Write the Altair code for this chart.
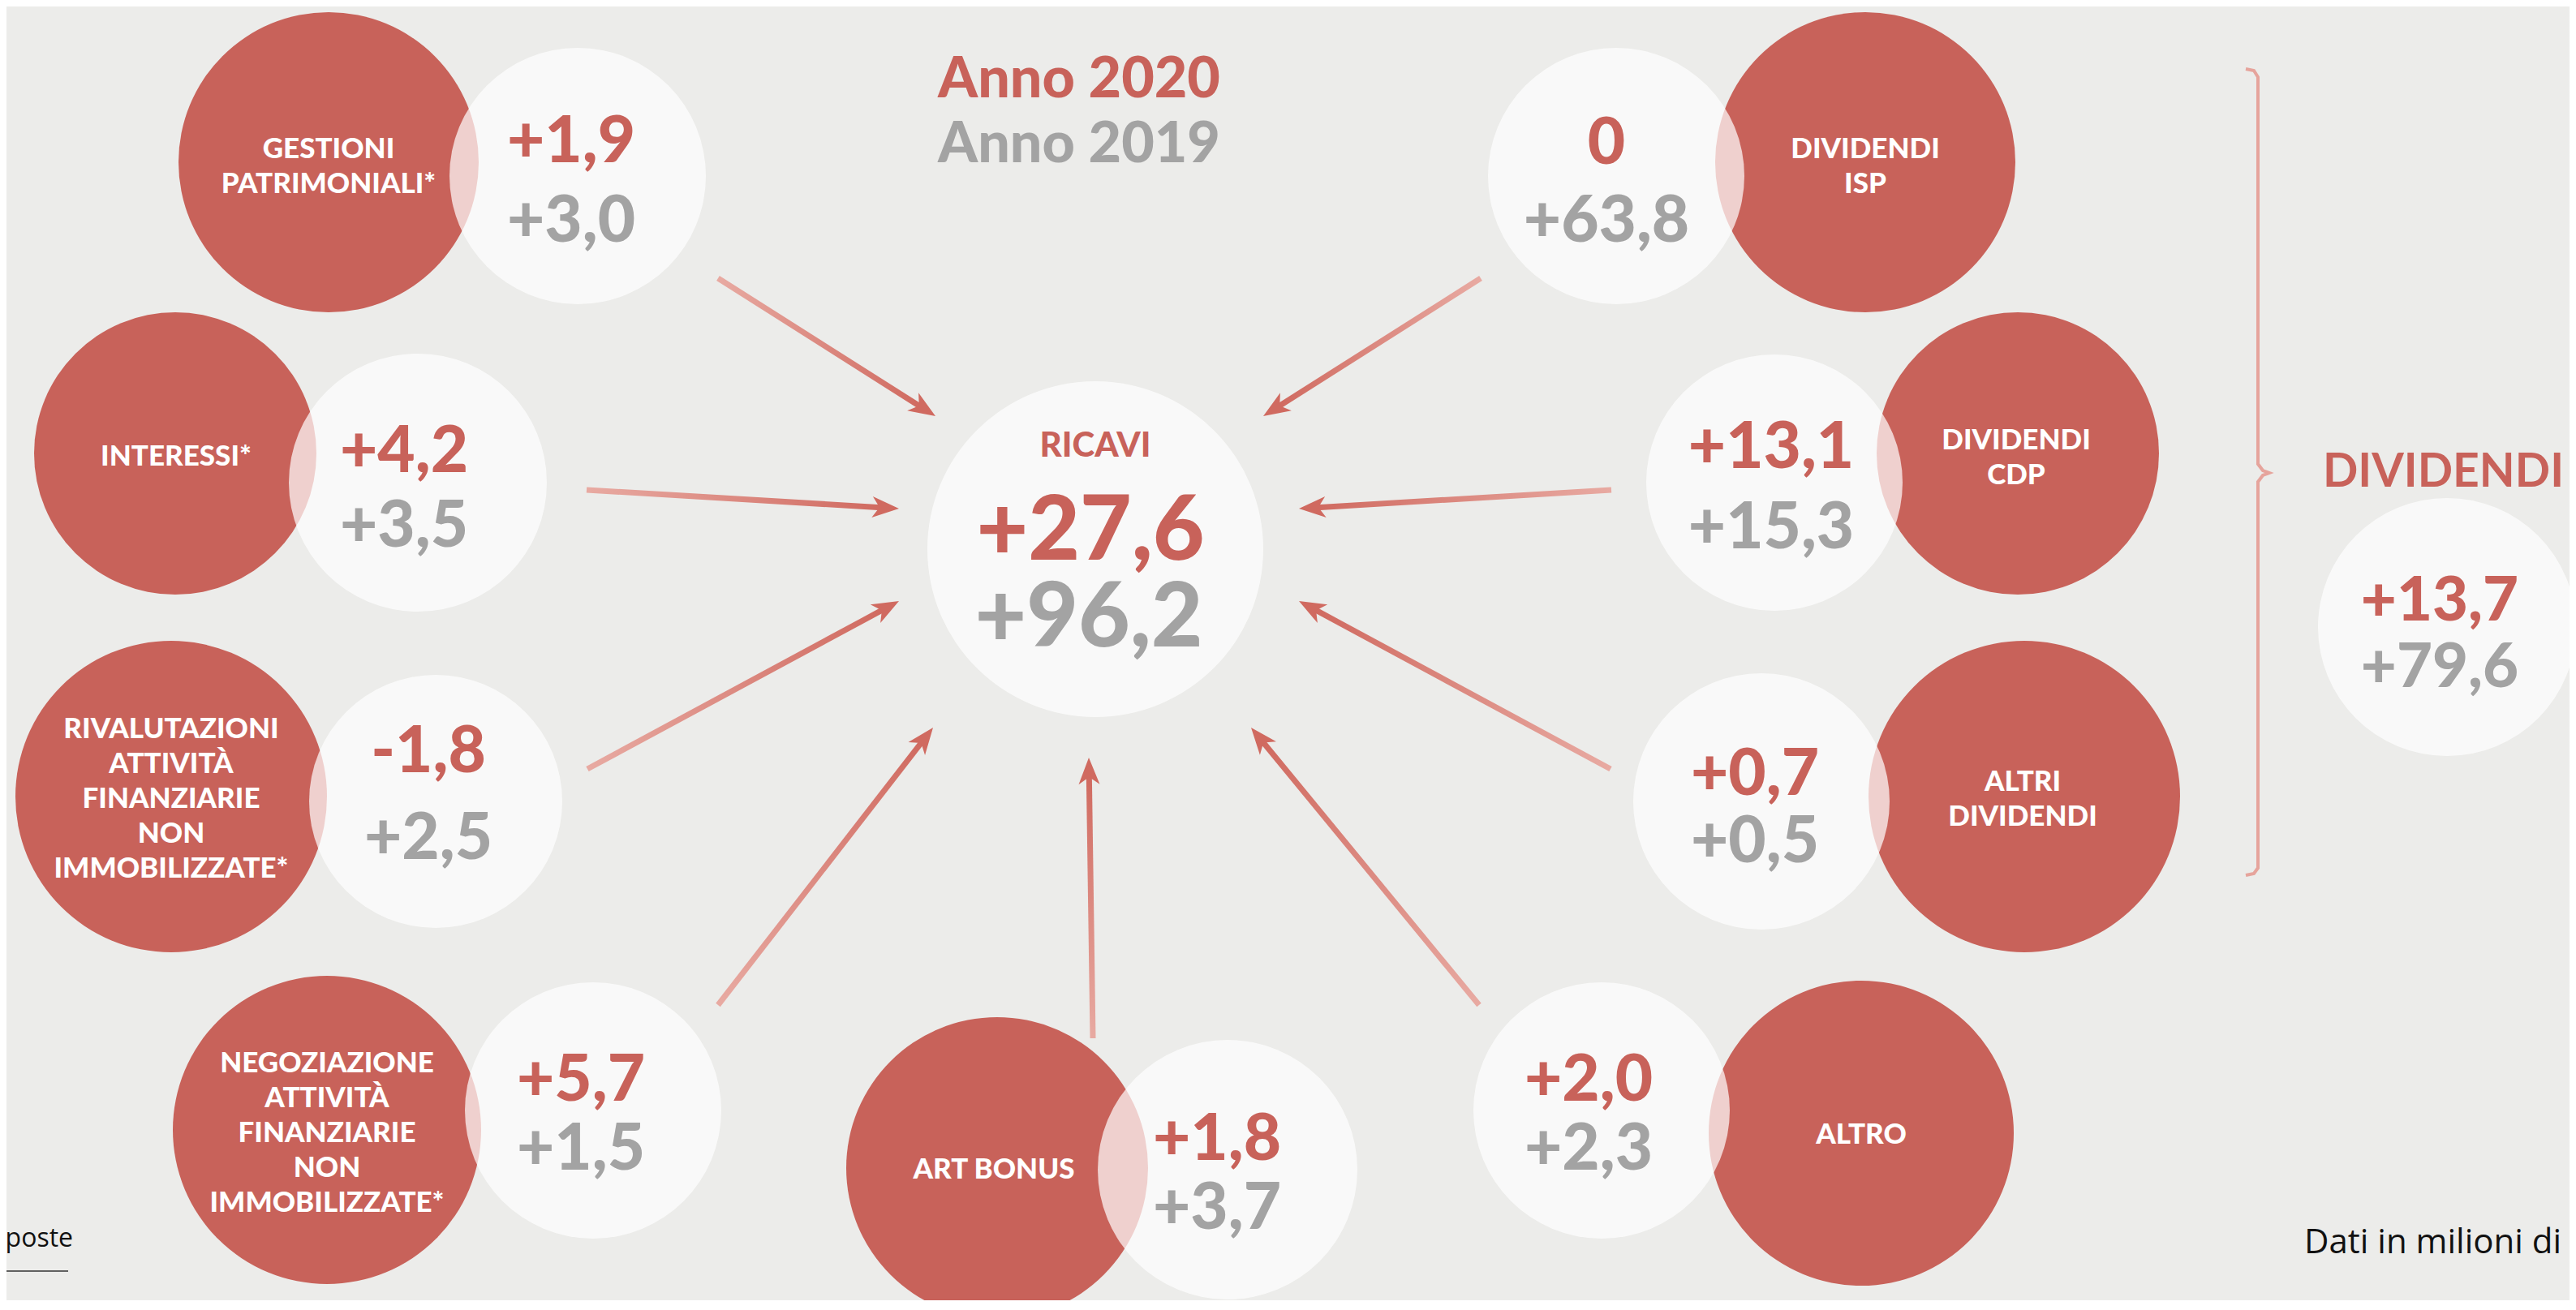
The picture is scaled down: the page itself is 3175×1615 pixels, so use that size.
import math
import altair as alt
import pandas as pd

# ---------------- canvas ----------------
W, H = 3159, 1595
OX, OY = 8, 8
BG = "#ECECEA"
RED = "#C8625A"
GRAY = "#A3A3A3"
WHITE = "#FFFFFF"
FONT = "Lato"

# ---------------- data ----------------
# red category circles (centre x, centre y, radius in px)
red_cx = [405, 216, 211, 403, 1229, 2294, 2495, 2487, 2299]
red_cy = [200, 559, 982, 1393, 1440, 1397, 982, 559, 200]
red_r = [185, 174, 192, 190, 186, 188, 192, 174, 185]

# light value circles (9 categories + RICAVI + DIVIDENDI total)
light_cx = [712, 515, 537, 731, 1513, 1974, 2171, 2187, 1992, 1350, 3016]
light_cy = [217, 595, 988, 1369, 1442, 1369, 988, 595, 217, 677, 773]
light_r = [158, 159, 156, 158, 160, 158, 158, 158, 158, 207, 159]

# category labels
label_lines = [
    ["GESTIONI", "PATRIMONIALI*"],
    ["INTERESSI*"],
    ["RIVALUTAZIONI", "ATTIVITÀ", "FINANZIARIE", "NON", "IMMOBILIZZATE*"],
    ["NEGOZIAZIONE", "ATTIVITÀ", "FINANZIARIE", "NON", "IMMOBILIZZATE*"],
    ["ART BONUS"],
    ["ALTRO"],
    ["ALTRI", "DIVIDENDI"],
    ["DIVIDENDI", "CDP"],
    ["DIVIDENDI", "ISP"],
]
label_cx = [405, 217, 211, 403, 1225, 2294, 2493, 2485, 2299]
label_cy = [205, 563, 985, 1397, 1442, 1399, 985, 564, 205]
LINE_GAP = 43

# values (2020 red, 2019 gray)
val_2020 = ["+1,9", "+4,2", "-1,8", "+5,7", "+1,8", "+2,0", "+0,7", "+13,1", "0"]
val_2019 = ["+3,0", "+3,5", "+2,5", "+1,5", "+3,7", "+2,3", "+0,5", "+15,3", "+63,8"]
val_x = [704, 498, 528, 716, 1500, 1958, 2163, 2183, 1980]
base_2020 = [200, 582, 952, 1357, 1430, 1357, 980, 577, 202]
base_2019 = [298, 674, 1059, 1442, 1515, 1442, 1063, 676, 298]

# totals
ricavi_label = "RICAVI"
ricavi_2020 = "+27,6"
ricavi_2019 = "+96,2"
div_label = "DIVIDENDI"
div_2020 = "+13,7"
div_2019 = "+79,6"

# legend headings
head_text = ["Anno 2020", "Anno 2019"]
head_color = [RED, GRAY]
head_base = [120, 200]

# arrows: tail -> tip
arr_x0 = [885, 723, 724, 885, 1347, 1823, 1985, 1986, 1825]
arr_y0 = [343, 604, 948, 1239, 1280, 1239, 948, 604, 343]
arr_x1 = [1153, 1108, 1108, 1150, 1342, 1542, 1601, 1601, 1557]
arr_y1 = [513, 627, 741, 897, 934, 897, 741, 627, 513]

# brace
brace_x = [2768, 2778, 2783, 2783, 2789, 2797, 2789, 2783, 2783, 2778, 2768]
brace_y = [85, 87, 95, 572, 580, 583, 586, 594, 1070, 1077, 1079]

# ---------------- scales / helpers ----------------
xs = alt.Scale(domain=[OX, OX + W], nice=False, zero=False)
ys = alt.Scale(domain=[OY, OY + H], nice=False, zero=False, reverse=True)


def X(f="x"):
    return alt.X(f"{f}:Q", scale=xs, axis=None)


def Y(f="y"):
    return alt.Y(f"{f}:Q", scale=ys, axis=None)


def text_layer(df, size, color, baseline="alphabetic", align="center", weight=900, font=FONT):
    return alt.Chart(df).mark_text(
        fontSize=size, color=color, baseline=baseline, align=align,
        fontWeight=weight, font=font
    ).encode(x=X(), y=Y(), text="t:N")


layers = []

# red circles  (Vega circle symbol: radius = sqrt(size)/2)
red_df = pd.DataFrame({"x": red_cx, "y": red_cy, "r": red_r})
red_df["area"] = (2 * red_df["r"]) ** 2
layers.append(
    alt.Chart(red_df).mark_circle(color=RED, opacity=1).encode(
        x=X(), y=Y(), size=alt.Size("area:Q", scale=None, legend=None)
    )
)

# light circles (semi transparent so the overlap shows pink)
light_df = pd.DataFrame({"x": light_cx, "y": light_cy, "r": light_r})
light_df["area"] = (2 * light_df["r"]) ** 2
layers.append(
    alt.Chart(light_df).mark_circle(color="#FFFFFF", opacity=0.7).encode(
        x=X(), y=Y(), size=alt.Size("area:Q", scale=None, legend=None)
    )
)

# arrows
HEAD_PATH = "M0,0 L1.3,3.3 L0,2.4 L-1.3,3.3 Z"
head_rows = []
for i in range(len(arr_x0)):
    x0, y0, x1, y1 = arr_x0[i], arr_y0[i], arr_x1[i], arr_y1[i]
    dx, dy = x1 - x0, y1 - y0
    L = math.hypot(dx, dy)
    ux, uy = dx / L, dy / L
    ex, ey = x1 - ux * 22, y1 - uy * 22
    seg = pd.DataFrame({"x": [x0, ex], "y": [y0, ey], "o": [0, 1]})
    if abs(dx) >= abs(dy):
        gx1 = 0 if dx > 0 else 1
        grad = dict(x1=gx1, x2=1 - gx1, y1=0.5, y2=0.5)
    else:
        gy1 = 0 if dy > 0 else 1
        grad = dict(x1=0.5, x2=0.5, y1=gy1, y2=1 - gy1)
    stroke = alt.LinearGradient(
        gradient="linear",
        stops=[alt.GradientStop(color="#E8AAA2", offset=0),
               alt.GradientStop(color="#D06A60", offset=1)],
        **grad,
    )
    layers.append(
        alt.Chart(seg).mark_line(stroke=stroke, strokeWidth=7, strokeCap="butt").encode(
            x=X(), y=Y(), order="o:Q"
        )
    )
    ang = math.degrees(math.atan2(dx, -dy)) % 360
    head_rows.append({"x": x1, "y": y1, "ang": ang})

head_df = pd.DataFrame(head_rows)
layers.append(
    alt.Chart(head_df).mark_point(
        shape=HEAD_PATH, filled=True, color="#D06A60", opacity=1, size=400, strokeWidth=0
    ).encode(x=X(), y=Y(), angle=alt.Angle("ang:Q", scale=None))
)

# brace
brace_df = pd.DataFrame({"x": brace_x, "y": brace_y, "o": list(range(len(brace_x)))})
layers.append(
    alt.Chart(brace_df).mark_line(color="#E6A49C", strokeWidth=4).encode(
        x=X(), y=Y(), order="o:Q"
    )
)

# category labels
lab_rows = []
for lines, cx, cy in zip(label_lines, label_cx, label_cy):
    n = len(lines)
    for k, t in enumerate(lines):
        lab_rows.append({"t": t, "x": cx, "y": cy + (k - (n - 1) / 2) * LINE_GAP})
layers.append(text_layer(pd.DataFrame(lab_rows), 35, WHITE, baseline="middle"))

# values
layers.append(text_layer(pd.DataFrame({"t": val_2020, "x": val_x, "y": base_2020}), 80, RED))
layers.append(text_layer(pd.DataFrame({"t": val_2019, "x": val_x, "y": base_2019}), 80, GRAY))

# RICAVI
layers.append(text_layer(pd.DataFrame({"t": [ricavi_label], "x": [1350], "y": [563]}), 42, RED))
layers.append(text_layer(pd.DataFrame({"t": [ricavi_2020], "x": [1344], "y": [690]}), 110, RED))
layers.append(text_layer(pd.DataFrame({"t": [ricavi_2019], "x": [1342], "y": [797]}), 110, GRAY))

# DIVIDENDI total
layers.append(text_layer(pd.DataFrame({"t": [div_label], "x": [2863], "y": [600]}), 57, RED, align="left", weight="bold"))
layers.append(text_layer(pd.DataFrame({"t": [div_2020], "x": [3007], "y": [765]}), 76, RED))
layers.append(text_layer(pd.DataFrame({"t": [div_2019], "x": [3007], "y": [847]}), 76, GRAY))

# headings
head_df2 = pd.DataFrame({"t": head_text, "x": [1330, 1330], "y": head_base, "c": head_color})
layers.append(
    alt.Chart(head_df2).mark_text(fontSize=70, fontWeight=900, font=FONT, baseline="alphabetic", align="center").encode(
        x=X(), y=Y(), text="t:N", color=alt.Color("c:N", scale=None)
    )
)

# footer texts
layers.append(text_layer(pd.DataFrame({"t": ["poste"], "x": [90], "y": [1537]}), 32, "#111111", align="right", weight="normal", font="Open Sans"))
layers.append(text_layer(pd.DataFrame({"t": ["Dati in milioni di"], "x": [2840], "y": [1545]}), 42, "#111111", align="left", weight="normal", font="Open Sans"))
rule_df = pd.DataFrame({"x": [0], "x2": [84], "y": [1567]})
layers.append(
    alt.Chart(rule_df).mark_rule(color="#333333", strokeWidth=1.5).encode(
        x=X(), x2="x2:Q", y=Y()
    )
)

chart = alt.layer(*layers).properties(
    width=W, height=H, background=BG, padding=0,
    autosize=alt.AutoSizeParams(type="none"),
).configure_view(stroke=None)

chart.save("out.html", embed_options={"renderer": "svg", "actions": False})
